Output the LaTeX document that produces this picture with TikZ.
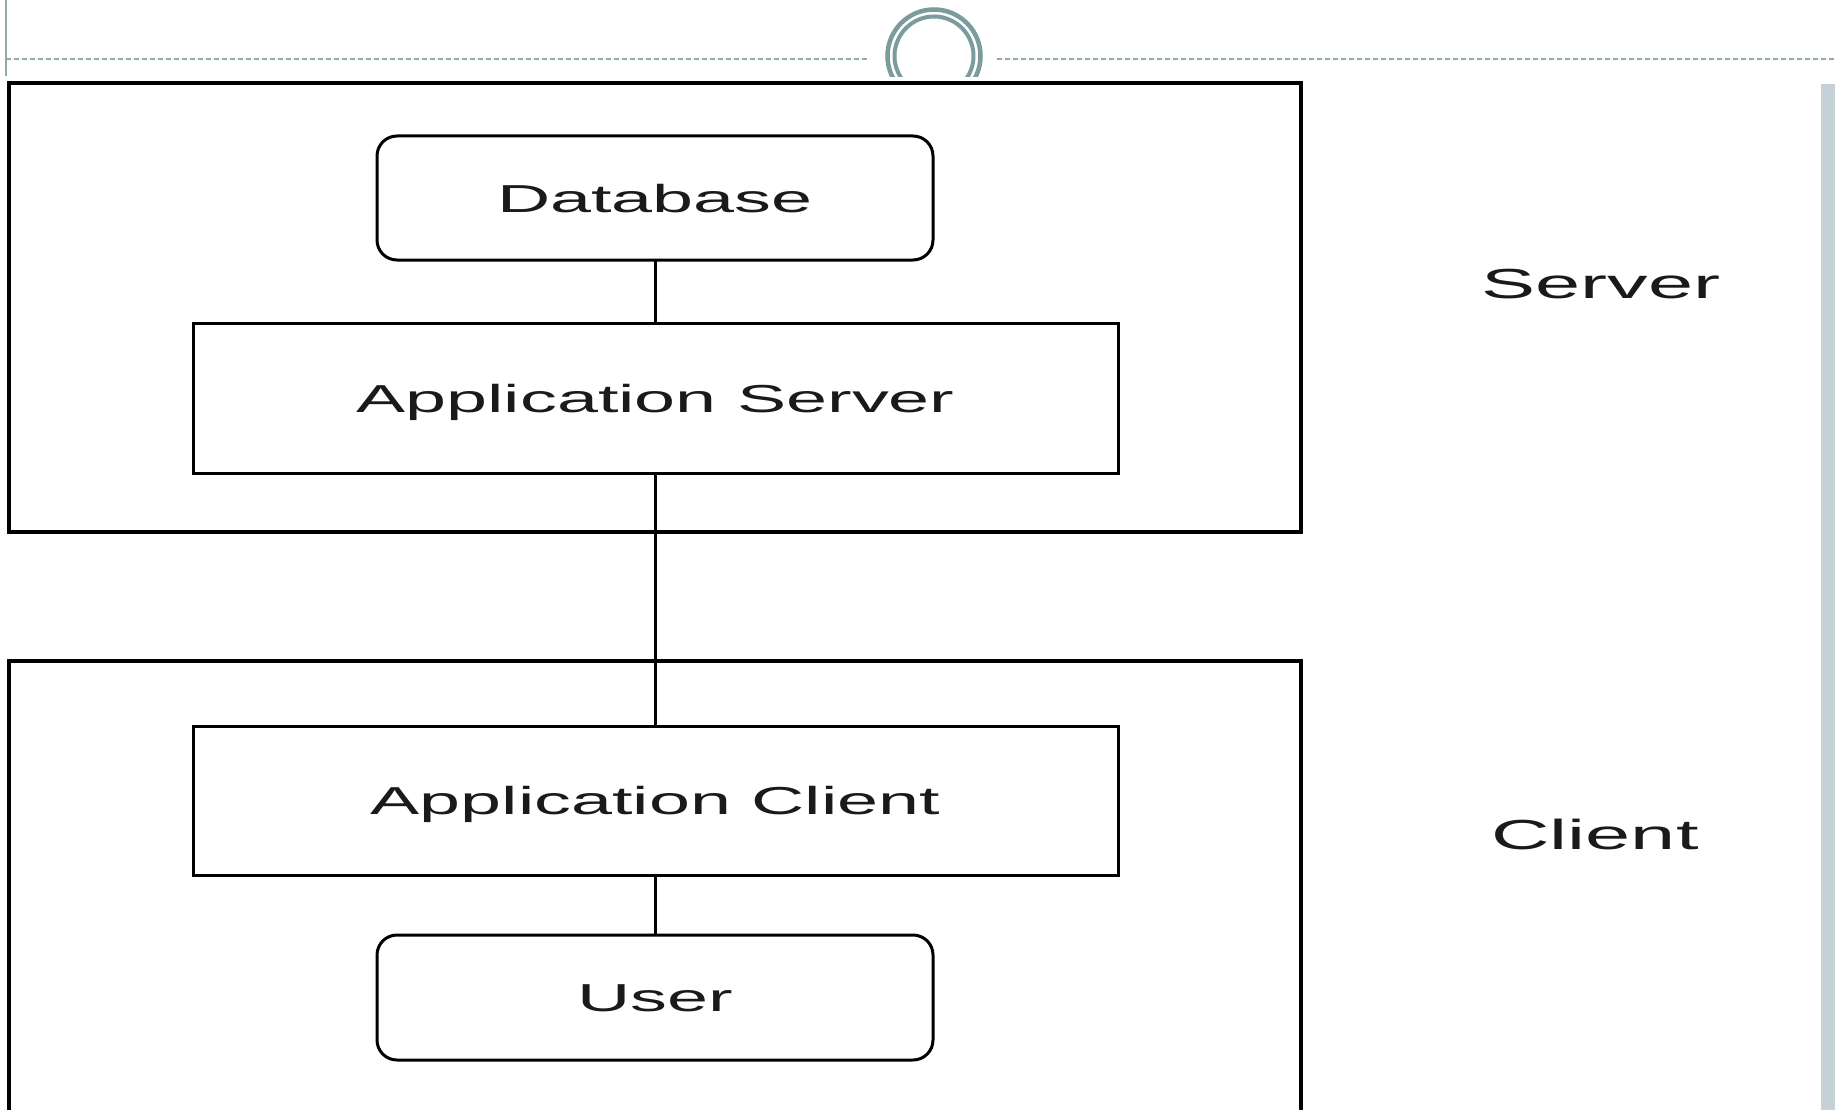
\documentclass[tikz,border=0pt]{standalone}
\usepackage{fontspec}
\setmainfont{Liberation Sans}
\usepackage{graphicx}
\definecolor{deco}{HTML}{7A9C9C}
\definecolor{dashc}{HTML}{8EAAAA}
\definecolor{barc}{HTML}{C5D0D7}
\definecolor{txt}{HTML}{1A1A1A}
\begin{document}
\begin{tikzpicture}[x=1pt,y=-1pt,
  every node/.style={inner sep=0pt,outer sep=0pt,text=txt},
  group/.style={draw=black,line width=3.2pt,rectangle},
  roundbox/.style={draw=black,line width=3pt,rectangle,rounded corners=20pt,
    text height=28pt,text depth=0pt,
    font=\fontsize{39}{47}\selectfont},
  sqbox/.style={draw=black,line width=3pt,rectangle,
    text height=28pt,text depth=0pt,
    font=\fontsize{39}{47}\selectfont},
  side/.style={font=\fontsize{42}{50}\selectfont,anchor=base},
  link/.style={draw=black,line width=3pt}]
\useasboundingbox (0,0) rectangle (1835,1110);
\fill[white] (0,0) rectangle (1835,1110);
% slide decoration
\draw[dashc,line width=2pt] (6,0) -- (6,76);
\draw[dashc,line width=1.6pt,dash pattern=on 5pt off 3pt] (6,59) -- (870,59);
\draw[dashc,line width=1.6pt,dash pattern=on 5pt off 3pt] (997,59) -- (1835,59);
\begin{scope}
  \clip (870,0) rectangle (1000,77);
  \draw[deco,line width=4.5pt] (934,56) circle[radius=46.5];
  \draw[deco,line width=4pt] (934,56) circle[radius=39.5];
\end{scope}
\fill[barc] (1821,84) rectangle (1835,1110);
% group boxes
\node[group,minimum width=1292pt,minimum height=449pt] (srv) at (655,307.5) {};
\node[group,minimum width=1292pt,minimum height=466pt] (cli) at (655,894) {};
% inner nodes
\node[roundbox,minimum width=556pt,minimum height=124pt] (db) at (655,198)
  {\scalebox{1.89}[1]{Database}};
\node[sqbox,minimum width=925pt,minimum height=150pt] (as) at (655.5,398)
  {\scalebox{1.89}[1]{Application Server}};
\node[sqbox,minimum width=925pt,minimum height=149pt] (ac) at (655.5,800.5)
  {\scalebox{1.89}[1]{Application Client}};
\node[roundbox,minimum width=556pt,minimum height=125pt] (usr) at (655,997.5)
  {\scalebox{1.89}[1]{User}};
% side labels
\node[side] (lsrv) at (1601,298) {\scalebox{1.93}[1]{Server}};
\node[side] (lcli) at (1595,849) {\scalebox{1.93}[1]{Client}};
% connectors
\draw[link] (db.south) -- (db.south |- as.north);
\draw[link] (as.south) -- (as.south |- ac.north);
\draw[link] (ac.south) -- (ac.south |- usr.north);
\end{tikzpicture}
\end{document}
